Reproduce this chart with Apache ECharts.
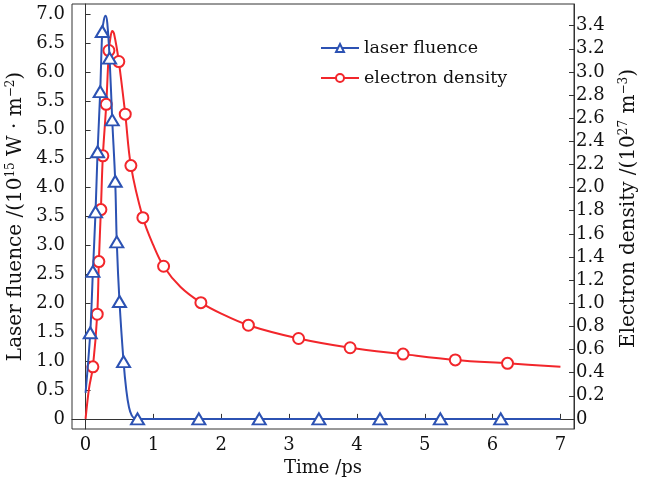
<!DOCTYPE html>
<html>
<head>
<meta charset="utf-8">
<script src="https://cdn.jsdelivr.net/npm/echarts@6/dist/echarts.min.js"></script>
<style>html,body{margin:0;padding:0;background:#fff}#c{width:651px;height:487px}</style>
</head>
<body>
<div id="c"></div>
<script>
// ---- data ----
const xTicks = [0, 1, 2, 3, 4, 5, 6, 7];
const leftTicks = [0, 0.5, 1, 1.5, 2, 2.5, 3, 3.5, 4, 4.5, 5, 5.5, 6, 6.5, 7];
const rightTicks = [0, 0.2, 0.4, 0.6, 0.8, 1, 1.2, 1.4, 1.6, 1.8, 2, 2.2, 2.4, 2.6, 2.8, 3, 3.2, 3.4];

// laser fluence (10^15 W·m^-2) vs time (ps)
const fluenceTime  = [0, 0.069, 0.108, 0.147, 0.177, 0.216, 0.246, 0.27, 0.295, 0.32, 0.354, 0.393, 0.437, 0.46, 0.50, 0.56, 0.60, 0.64, 0.68, 0.72, 0.766, 1.67, 2.56, 3.44, 4.34, 5.23, 6.12, 7.0];
const fluenceValue = [0.45, 1.49, 2.55, 3.58, 4.62, 5.66, 6.70, 6.90, 6.97, 6.85, 6.24, 5.17, 4.11, 3.06, 2.03, 0.99, 0.50, 0.20, 0.06, 0.01, 0, 0, 0, 0, 0, 0, 0, 0];
const fluenceMarked = [1, 2, 3, 4, 5, 6, 10, 11, 12, 13, 14, 15, 20, 21, 22, 23, 24, 25, 26];

// electron density (10^27 m^-3) vs time (ps)
const densityTime  = [0, 0.05, 0.108, 0.172, 0.196, 0.226, 0.255, 0.305, 0.344, 0.37, 0.393, 0.42, 0.49, 0.585, 0.668, 0.845, 1.0, 1.15, 1.40, 1.70, 2.0, 2.40, 3.14, 3.90, 4.68, 5.45, 6.22, 7.0];
const densityValue = [0, 0.26, 0.45, 0.905, 1.36, 1.81, 2.275, 2.72, 3.185, 3.31, 3.355, 3.33, 3.09, 2.635, 2.19, 1.74, 1.50, 1.32, 1.14, 1.005, 0.91, 0.81, 0.695, 0.615, 0.56, 0.51, 0.48, 0.45];
const densityMarked = [2, 3, 4, 5, 6, 7, 8, 12, 13, 14, 15, 17, 19, 21, 22, 23, 24, 25, 26];

const seriesNames = ['laser fluence', 'electron density'];
const axisNames = { x: 'Time /ps' };

// ---- chart ----
const BLUE = '#2c52b3', RED = '#f2262b', INK = '#111';
const FONT = 'DejaVu Serif';
function build(ts, vs, marked) {
  return ts.map((t, i) => marked.indexOf(i) >= 0 ? [t, vs[i]] : { value: [t, vs[i]], symbol: 'none' });
}
const fmt = v => (Math.abs(v) < 1e-9 ? '0' : (Math.round(v * 10) / 10).toFixed(1));
const nameRich = {
  n: { fontFamily: FONT, fontSize: 20, color: INK },
  s: { fontFamily: FONT, fontSize: 12, color: INK, verticalAlign: 'bottom', padding: [0, 0, 9, 0] }
};
const chart = echarts.init(document.getElementById('c'), null, { renderer: 'canvas' });
chart.setOption({
  animation: false,
  backgroundColor: '#fff',
  textStyle: { fontFamily: FONT, color: INK },
  grid: { left: 72, right: 77, top: 4, bottom: 58, containLabel: false, outerBoundsMode: 'none', show: true, borderColor: '#333', borderWidth: 1, backgroundColor: 'transparent' },
  legend: {
    orient: 'vertical', left: 315, top: 34, itemWidth: 38, itemHeight: 10, itemGap: 12,
    textStyle: { fontFamily: FONT, fontSize: 17.5, color: INK },
    data: seriesNames
  },
  xAxis: {
    type: 'value', min: -0.2, max: 7.2,
    name: axisNames.x, nameLocation: 'middle', nameGap: 28,
    nameTextStyle: { fontFamily: FONT, fontSize: 18, color: INK },
    axisLine: { lineStyle: { color: '#333', width: 1 } },
    axisTick: { inside: true, length: 5, customValues: xTicks, lineStyle: { color: '#333' } },
    axisLabel: { customValues: xTicks, fontFamily: FONT, fontSize: 18, color: INK, margin: 7, formatter: v => String(Math.round(v)) },
    splitLine: { show: false }
  },
  yAxis: [{
    type: 'value', position: 'left', min: -0.175, max: 7.175,
    name: '{n|Laser fluence /(10}{s|15}{n| W · m}{s|−2}{n|)}', nameLocation: 'middle', nameGap: 42, nameRotate: 90,
    nameTextStyle: { rich: nameRich },
    axisLine: { show: true, lineStyle: { color: '#333', width: 1 } },
    axisTick: { show: true, inside: true, length: 5, customValues: leftTicks, lineStyle: { color: '#333' } },
    axisLabel: { customValues: leftTicks, fontFamily: FONT, fontSize: 18, color: INK, margin: 7, formatter: fmt },
    splitLine: { show: false }
  }, {
    type: 'value', position: 'right', min: -0.0875, max: 3.5875,
    name: '{n|Electron density /(10}{s|27}{n| m}{s|−3}{n|)}', nameLocation: 'middle', nameGap: 44, nameRotate: 90,
    nameTextStyle: { rich: nameRich, padding: [0, 0, 0, 16] },
    axisLine: { show: true, lineStyle: { color: '#333', width: 1 } },
    axisTick: { show: true, inside: true, length: 5, customValues: rightTicks, lineStyle: { color: '#333' } },
    axisLabel: { customValues: rightTicks, fontFamily: FONT, fontSize: 18, color: INK, margin: 2, formatter: fmt },
    splitLine: { show: false }
  }],
  series: [{
    name: seriesNames[0], type: 'line', yAxisIndex: 0, smooth: 0.35, showAllSymbol: true,
    symbol: 'triangle', symbolSize: [13, 11], color: BLUE,
    lineStyle: { color: BLUE, width: 2 },
    itemStyle: { color: '#fff', borderColor: BLUE, borderWidth: 2 },
    data: build(fluenceTime, fluenceValue, fluenceMarked), z: 3
  }, {
    name: seriesNames[1], type: 'line', yAxisIndex: 1, smooth: 0.35, showAllSymbol: true,
    symbol: 'circle', symbolSize: 11, color: RED,
    lineStyle: { color: RED, width: 2 },
    itemStyle: { color: '#fff', borderColor: RED, borderWidth: 2 },
    data: build(densityTime, densityValue, densityMarked), z: 2
  }]
});
</script>
</body>
</html>
